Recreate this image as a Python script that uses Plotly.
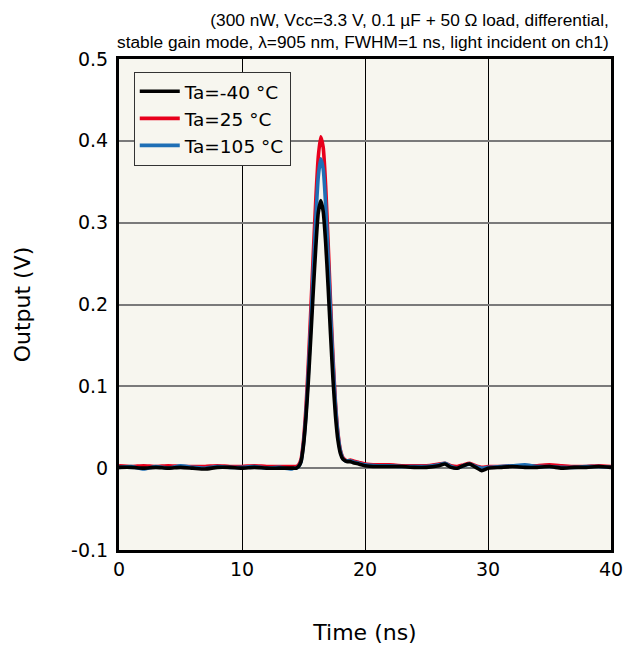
import plotly.graph_objects as go

time_ns = [0, 1, 2, 3, 4, 5, 6, 7, 8, 9, 10, 11, 12, 13, 14,
           14.2, 14.4, 14.6, 14.8, 15.0, 15.2, 15.4, 15.6, 15.8, 16.0, 16.2, 16.4, 16.6, 16.8,
           17.0, 17.2, 17.4, 17.6, 17.8, 18.0, 18.2, 18.4, 18.6, 18.8, 19.0, 19.5, 20,
           21, 22, 23, 24, 25, 26, 26.5, 27, 27.5, 28, 28.5, 29, 29.5,
           30, 31, 32, 33, 34, 35, 36, 37, 38, 39, 40]

v_m40 = [0.001, 0.001, 0.000, 0.001, 0.000, 0.001, 0.000, -0.001, 0.001, 0.001, 0.000, 0.001, 0.000, 0.000, 0.000,
         0.000, 0.000, 0.002, 0.008, 0.028, 0.062, 0.108, 0.162, 0.218, 0.270, 0.312, 0.327, 0.314, 0.276,
         0.222, 0.163, 0.108, 0.064, 0.034, 0.018, 0.011, 0.009, 0.008, 0.008, 0.007, 0.005, 0.003,
         0.002, 0.002, 0.002, 0.001, 0.001, 0.003, 0.005, 0.001, 0.000, 0.003, 0.005, 0.001, -0.003,
         0.000, 0.001, 0.002, 0.001, 0.001, 0.002, 0.000, 0.001, 0.001, 0.002, 0.001]

v_25 = [0.003, 0.002, 0.003, 0.002, 0.003, 0.002, 0.002, 0.002, 0.003, 0.002, 0.002, 0.003, 0.002, 0.002, 0.002,
        0.002, 0.002, 0.004, 0.011, 0.034, 0.074, 0.130, 0.195, 0.263, 0.328, 0.380, 0.405, 0.392, 0.345,
        0.276, 0.202, 0.135, 0.080, 0.043, 0.022, 0.013, 0.010, 0.009, 0.010, 0.009, 0.007, 0.005,
        0.004, 0.004, 0.003, 0.003, 0.003, 0.005, 0.006, 0.003, 0.002, 0.004, 0.006, 0.003, 0.001,
        0.002, 0.002, 0.003, 0.003, 0.003, 0.004, 0.003, 0.002, 0.002, 0.003, 0.002]

v_105 = [0.001, 0.002, -0.001, 0.002, 0.000, 0.003, 0.001, 0.000, 0.002, 0.001, 0.001, 0.002, 0.000, 0.001, -0.001,
         0.000, 0.000, 0.002, 0.008, 0.030, 0.066, 0.118, 0.178, 0.243, 0.305, 0.356, 0.378, 0.366, 0.322,
         0.258, 0.190, 0.127, 0.076, 0.041, 0.021, 0.012, 0.009, 0.009, 0.009, 0.008, 0.006, 0.004,
         0.003, 0.003, 0.002, 0.002, 0.002, 0.004, 0.006, 0.002, 0.000, 0.003, 0.005, 0.002, 0.000,
         0.001, 0.002, 0.003, 0.004, 0.002, 0.002, 0.001, 0.001, 0.002, 0.002, 0.001]

series_names = ["Ta=-40 °C", "Ta=25 °C", "Ta=105 °C"]
series_colors = ["#000000", "#e8001c", "#1f6fb5"]

x_ticks = [0, 10, 20, 30, 40]
y_ticks = [-0.1, 0, 0.1, 0.2, 0.3, 0.4, 0.5]
y_tick_text = ["-0.1", "0", "0.1", "0.2", "0.3", "0.4", "0.5"]

title_lines = ["(300 nW, Vcc=3.3 V, 0.1 µF + 50 Ω load, differential,",
               "stable gain mode, λ=905 nm, FWHM=1 ns, light incident on ch1)"]

FONT = "DejaVu Sans"
NARROW = "Liberation Sans Narrow, Arial Narrow, Liberation Sans"

fig = go.Figure()
# draw order: red, blue, black (black on top); legend order: black, red, blue
for idx, vals, rank in [(1, v_25, 2), (2, v_105, 3), (0, v_m40, 1)]:
    fig.add_trace(go.Scatter(
        x=time_ns, y=vals, mode="lines", name=series_names[idx],
        line=dict(color=series_colors[idx], width=3.6, shape="spline", smoothing=0.6),
        legendrank=rank,
    ))

fig.update_layout(
    width=623, height=650,
    margin=dict(l=119, r=12, t=59, b=100),
    paper_bgcolor="white",
    plot_bgcolor="#f7f6ef",
    font=dict(family=FONT, size=19, color="black"),
    showlegend=True,
    legend=dict(
        x=0.03, y=0.974, xanchor="left", yanchor="top",
        bgcolor="#f7f6ef", bordercolor="#333333", borderwidth=1,
        font=dict(family=FONT, size=18.5, color="black"),
        tracegroupgap=0, itemwidth=40,
    ),
)

fig.update_xaxes(
    range=[0, 40], tickvals=x_ticks, ticks="",
    showgrid=True, gridcolor="#000000", gridwidth=1,
    zeroline=False, automargin=False, ticklabeloverflow="allow",
    showline=True, linecolor="black", linewidth=3, mirror=True,
    tickfont=dict(family=FONT, size=19),
    title=dict(text="Time (ns)", font=dict(family=FONT, size=22), standoff=46),
)
fig.update_yaxes(
    range=[-0.1, 0.5], tickvals=y_ticks, ticktext=y_tick_text, ticks="",
    showgrid=True, gridcolor="#7a7a7a", gridwidth=1.5,
    zeroline=True, zerolinecolor="#7a7a7a", zerolinewidth=1.5,
    automargin=False, ticklabeloverflow="allow",
    showline=True, linecolor="black", linewidth=3, mirror=True,
    tickfont=dict(family=FONT, size=19),
    ticklabelstandoff=4,
    title=dict(text="Output (V)", font=dict(family=FONT, size=22), standoff=35),
)

fig.add_annotation(
    xref="paper", yref="paper", x=1.0, y=1.0, xanchor="right", yanchor="bottom",
    yshift=5, align="right", showarrow=False,
    text=title_lines[0] + "<br>" + title_lines[1],
    font=dict(family=NARROW, size=17.3, color="black"),
)

fig.write_html(
    "out.html",
    config={"displayModeBar": False},
    post_script="document.body.style.margin='0';document.body.style.overflow='hidden';",
)
